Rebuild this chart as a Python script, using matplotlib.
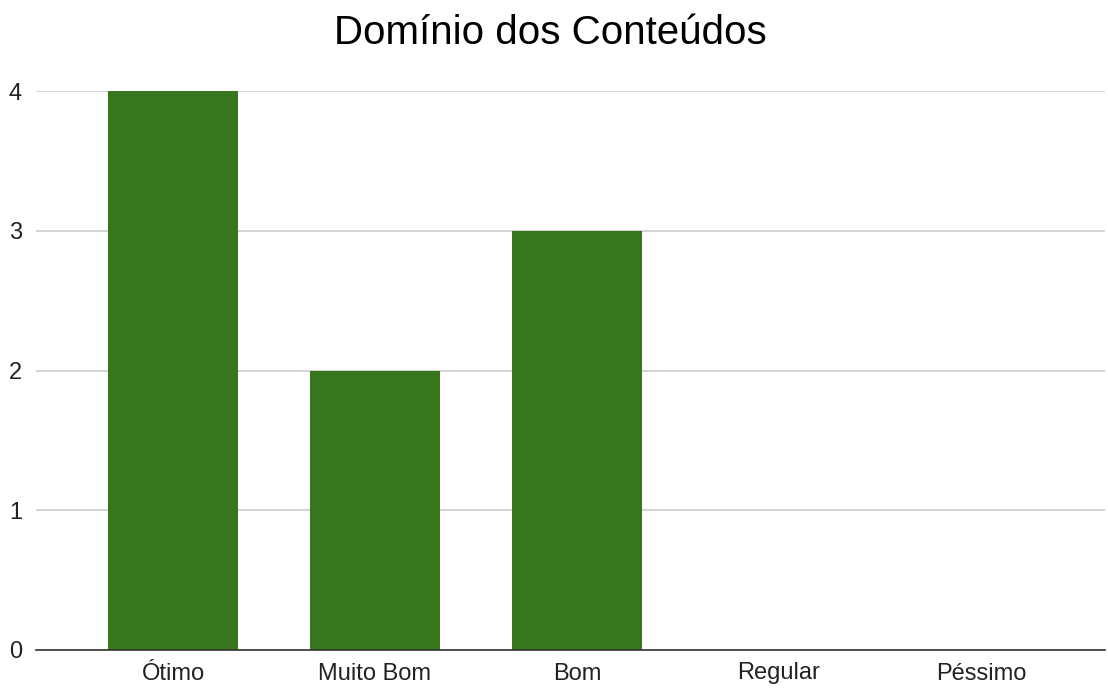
import matplotlib.pyplot as plt

categorias = ["Ótimo", "Muito Bom", "Bom", "Regular", "Péssimo"]
valores = [4, 2, 3, 0, 0]
yticks = [0, 1, 2, 3, 4]

plt.rcParams['font.family'] = ['Liberation Sans', 'DejaVu Sans']

fig = plt.figure(figsize=(11.08, 6.88), dpi=100)
ax = fig.add_axes([36 / 1108, 1 - 650 / 688, (1105 - 36) / 1108, (650 - 91) / 688])

x = range(len(categorias))
ax.bar(x, valores, width=0.644, color="#38761d", zorder=3)

ax.set_xlim((36 - 173) / 202, (1105 - 173) / 202)
ax.set_ylim(0, 4)
ax.set_yticks(yticks)
ax.set_xticks(list(x))
ax.set_xticklabels(categorias)

ax.grid(axis="y", color="#cccccc", linewidth=1.2, zorder=0)
for s in ["top", "right", "left"]:
    ax.spines[s].set_visible(False)
ax.spines["bottom"].set_color("#333333")
ax.spines["bottom"].set_linewidth(1.2)
ax.spines["bottom"].set_zorder(4)
ax.tick_params(axis="both", length=0, labelsize=17, colors="#222222")
ax.tick_params(axis="x", pad=9)
ax.tick_params(axis="y", pad=10)

fig.text(550 / 1108, 1 - 33 / 688, "Domínio dos Conteúdos", ha="center", va="center",
         fontsize=29, color="#000000")

fig.savefig("out.png", dpi=100)
